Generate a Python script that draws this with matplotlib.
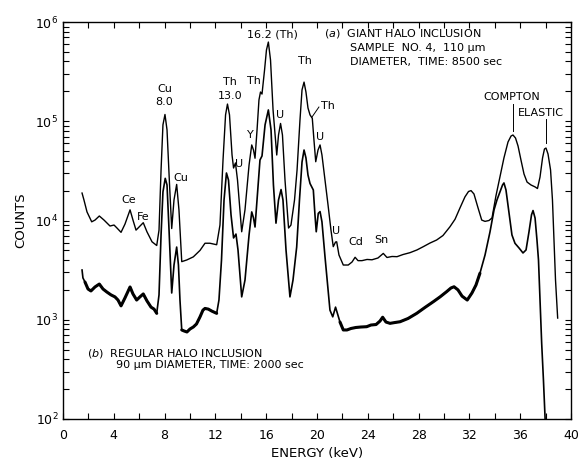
import matplotlib
matplotlib.use("Agg")
import matplotlib.pyplot as plt
from matplotlib.ticker import MultipleLocator, LogLocator, NullFormatter, FixedLocator

# ---- data: energy (keV) and counts ----
energy_a = [1.50, 1.65, 1.89, 2.26, 2.52, 2.86, 3.23, 3.70, 4.02, 4.25, 4.57, 4.88, 5.28, 5.51, 5.75,
            6.06, 6.32, 6.61, 7.01, 7.38, 7.56, 7.72, 7.87, 8.03, 8.19, 8.39, 8.56, 8.74, 8.95, 9.13,
            9.35, 9.74, 10.26, 10.79, 11.18, 11.57, 12.10, 12.36, 12.60, 12.80, 12.95, 13.11, 13.31,
            13.43, 13.58, 13.74, 14.07, 14.33, 14.65, 14.86, 15.00, 15.12, 15.28, 15.43, 15.55, 15.67,
            15.87, 16.02, 16.17, 16.34, 16.54, 16.83, 16.97, 17.13, 17.28, 17.48, 17.76, 17.95, 18.23,
            18.43, 18.66, 18.82, 18.98, 19.13, 19.29, 19.45, 19.63, 19.76, 19.90, 20.08, 20.24, 20.39,
            20.63, 20.87, 21.10, 21.28, 21.46, 21.55, 21.73, 22.07, 22.46, 22.76, 23.00, 23.23, 23.54,
            23.94, 24.33, 24.80, 25.22, 25.51, 25.91, 26.30, 26.77, 27.32, 27.87, 28.37, 28.90, 29.42,
            29.92, 30.47, 30.87, 31.26, 31.65, 31.93, 32.13, 32.36, 32.68, 32.97, 33.23, 33.54, 33.78,
            34.09, 34.41, 34.72, 35.04, 35.28, 35.43, 35.63, 35.83, 36.06, 36.30, 36.54, 36.85, 37.17,
            37.36, 37.56, 37.76, 37.91, 38.03, 38.19, 38.39, 38.54, 38.66, 38.78, 38.95]
counts_a = [1.89e4, 1.61e4, 1.22e4, 9.7e3, 1.01e4, 1.11e4, 1.01e4, 8.8e3, 9.0e3, 8.4e3, 7.6e3, 9.2e3,
            1.28e4, 1.01e4, 8.0e3, 8.8e3, 9.5e3, 7.7e3, 6.1e3, 5.6e3, 8.0e3, 3.2e4, 9.2e4, 1.17e5,
            8.2e4, 2.28e4, 8.3e3, 1.61e4, 2.31e4, 1.28e4, 3.85e3, 4.0e3, 4.3e3, 5.0e3, 5.9e3, 5.9e3,
            5.7e3, 9.0e3, 4.07e4, 1.16e5, 1.49e5, 1.16e5, 4.57e4, 3.38e4, 3.8e4, 2.56e4, 7.7e3, 1.28e4,
            3.62e4, 5.77e4, 5.13e4, 4.24e4, 8.2e4, 1.64e5, 1.97e5, 1.88e5, 3.28e5, 5.22e5, 6.28e5,
            4.14e5, 1.30e5, 4.57e4, 7.27e4, 9.5e4, 7.27e4, 2.56e4, 8.4e3, 9.0e3, 1.61e4, 3.23e4, 1.03e5,
            2.07e5, 2.48e5, 1.97e5, 1.36e5, 1.16e5, 1.07e5, 6.47e4, 3.91e4, 5.13e4, 5.77e4, 4.57e4,
            2.56e4, 1.43e4, 8.0e3, 5.45e3, 6.07e3, 6.1e3, 4.49e3, 3.56e3, 3.56e3, 3.82e3, 4.26e3,
            3.94e3, 3.94e3, 4.05e3, 4.02e3, 4.19e3, 4.66e3, 4.24e3, 4.34e3, 4.32e3, 4.54e3, 4.74e3,
            5.05e3, 5.45e3, 5.93e3, 6.36e3, 7.06e3, 8.65e3, 1.03e4, 1.34e4, 1.73e4, 1.96e4, 2.0e4,
            1.85e4, 1.34e4, 1.01e4, 9.8e3, 1.0e4, 1.06e4, 1.77e4, 2.76e4, 4.27e4, 6.18e4, 7.1e4,
            7.27e4, 6.78e4, 5.63e4, 4.07e4, 2.94e4, 2.44e4, 2.28e4, 2.18e4, 2.1e4, 2.74e4, 4.27e4,
            5.25e4, 5.37e4, 4.68e4, 3.23e4, 1.61e4, 6.4e3, 2.52e3, 1.04e3]

energy_b = [1.50, 1.57, 1.73, 1.97, 2.20, 2.52, 2.86, 3.15, 3.46, 3.78, 4.09, 4.33, 4.57, 4.88, 5.28,
            5.51, 5.80, 6.06, 6.32, 6.61, 6.93, 7.17, 7.38, 7.56, 7.72, 7.87, 8.05, 8.19, 8.35, 8.56,
            8.74, 8.95, 9.09, 9.21, 9.35, 9.53, 9.76, 10.00, 10.26, 10.51, 10.79, 11.02, 11.18, 11.44,
            11.73, 12.10, 12.28, 12.48, 12.68, 12.87, 13.03, 13.23, 13.43, 13.62, 13.78, 14.07, 14.33,
            14.65, 14.86, 15.00, 15.12, 15.31, 15.51, 15.67, 15.91, 16.17, 16.38, 16.57, 16.77, 16.97,
            17.17, 17.32, 17.56, 17.87, 18.11, 18.40, 18.62, 18.82, 18.98, 19.13, 19.29, 19.45, 19.71,
            19.84, 19.94, 20.10, 20.24, 20.39, 20.63, 20.87, 21.02, 21.24, 21.46, 21.57, 21.81, 22.07,
            22.36, 22.68, 23.07, 23.46, 23.91, 24.25, 24.65, 24.96, 25.17, 25.43, 25.75, 26.14, 26.54,
            27.17, 27.85, 28.50, 29.16, 29.69, 30.21, 30.55, 30.79, 31.10, 31.42, 31.83, 32.20, 32.52,
            32.83, 33.23, 33.62, 33.94, 34.17, 34.41, 34.61, 34.72, 34.88, 35.04, 35.20, 35.35, 35.59,
            35.91, 36.22, 36.46, 36.69, 36.89, 37.01, 37.17, 37.32, 37.44, 37.56, 37.69, 37.83, 37.97]
counts_b = [3.17e3, 2.64e3, 2.4e3, 2.04e3, 1.95e3, 2.14e3, 2.29e3, 2.04e3, 1.9e3, 1.78e3, 1.7e3,
            1.58e3, 1.38e3, 1.66e3, 2.14e3, 1.82e3, 1.58e3, 1.7e3, 1.82e3, 1.55e3, 1.34e3, 1.28e3,
            1.16e3, 1.78e3, 7.1e3, 1.94e4, 2.66e4, 2.28e4, 8.0e3, 1.86e3, 3.56e3, 5.4e3, 3.56e3,
            1.58e3, 789, 771, 753, 807, 845, 906, 1.07e3, 1.25e3, 1.3e3, 1.28e3, 1.22e3, 1.16e3,
            1.58e3, 4.0e3, 1.61e4, 3.01e4, 2.56e4, 1.14e4, 6.67e3, 7.3e3, 5.05e3, 1.7e3, 2.51e3,
            7.15e3, 1.22e4, 1.06e4, 8.6e3, 1.81e4, 4.07e4, 4.47e4, 9.2e4, 1.30e5, 8.2e4, 2.28e4,
            9.4e3, 1.61e4, 2.05e4, 1.61e4, 5.05e3, 1.7e3, 2.51e3, 5.4e3, 1.61e4, 3.88e4, 5.13e4,
            4.27e4, 2.87e4, 2.36e4, 2.03e4, 1.14e4, 7.7e3, 1.18e4, 1.23e4, 9.7e3, 4.31e3, 2.0e3,
            1.25e3, 1.07e3, 1.34e3, 1.2e3, 948, 789, 789, 817, 836, 845, 851, 885, 895, 970, 1.06e3,
            948, 920, 938, 955, 1.03e3, 1.16e3, 1.33e3, 1.52e3, 1.7e3, 1.92e3, 2.09e3, 2.15e3, 2.0e3,
            1.73e3, 1.58e3, 1.86e3, 2.24e3, 2.94e3, 4.49e3, 7.66e3, 1.28e4, 1.61e4, 1.94e4, 2.28e4,
            2.39e4, 2.03e4, 1.43e4, 1.01e4, 7.15e3, 5.89e3, 5.28e3, 4.71e3, 5.05e3, 7.66e3, 1.14e4,
            1.26e4, 1.06e4, 6.37e3, 4.0e3, 1.58e3, 583, 247, 95]

# energy ranges where spectrum (b) is drawn as a thick, noisy trace
noisy_ranges_b = [(1.7, 7.4), (9.35, 12.2), (21.8, 32.9)]

x_ticks_major = [0, 4, 8, 12, 16, 20, 24, 28, 32, 36, 40]
y_decades = [1e2, 1e3, 1e4, 1e5, 1e6]
y_labels = ["$10^{2}$", "$10^{3}$", "$10^{4}$", "$10^{5}$", "$10^{6}$"]

fig = plt.figure(figsize=(5.82, 4.66), dpi=100)
ax = fig.add_axes([63 / 582, 1 - 419 / 466, (571 - 63) / 582, (419 - 22) / 466])

ax.plot(energy_a, counts_a, color="black", lw=1.0, solid_joinstyle="round")
ax.plot(energy_b, counts_b, color="black", lw=1.2, solid_joinstyle="round")
for lo, hi in noisy_ranges_b:
    seg = [(e, c) for e, c in zip(energy_b, counts_b) if lo <= e <= hi]
    ax.plot([s[0] for s in seg], [s[1] for s in seg], color="black", lw=2.2,
            solid_joinstyle="round", solid_capstyle="round")

ax.set_yscale("log")
ax.set_xlim(0, 40)
ax.set_ylim(1e2, 1e6)

ax.xaxis.set_major_locator(FixedLocator(x_ticks_major))
ax.set_xticklabels([str(v) for v in x_ticks_major])
ax.xaxis.set_minor_locator(MultipleLocator(2))
ax.yaxis.set_major_locator(FixedLocator(y_decades))
ax.set_yticklabels(y_labels)
ax.yaxis.set_minor_locator(LogLocator(base=10, subs=range(2, 10), numticks=20))
ax.yaxis.set_minor_formatter(NullFormatter())
ax.tick_params(which="both", direction="in", top=True, right=True, length=4, width=0.8,
               labelsize=9)
ax.tick_params(axis="x", which="major", pad=7)
for s in ax.spines.values():
    s.set_linewidth(1.0)

ax.set_xlabel("ENERGY (keV)", fontsize=9.5, labelpad=4)
ax.set_ylabel("COUNTS", fontsize=9.5, labelpad=6)

fs = 8
def lab(x, y, t, ha="center", va="center"):
    ax.text(x, y, t, fontsize=fs, ha=ha, va=va)

lab(5.2, 1.6e4, "Ce")
lab(6.3, 1.08e4, "Fe")
lab(8.0, 2.1e5, "Cu")
lab(8.0, 1.56e5, "8.0")
lab(9.3, 2.7e4, "Cu")
lab(13.15, 2.48e5, "Th")
lab(13.15, 1.8e5, "13.0")
lab(13.86, 3.7e4, "U")
lab(14.72, 7.3e4, "Y")
lab(15.04, 2.54e5, "Th")
lab(16.46, 7.4e5, "16.2 (Th)")
lab(17.09, 1.16e5, "U")
lab(19.06, 4.05e5, "Th")
lab(20.3, 1.43e5, "Th", ha="left")
ax.plot([19.6, 20.15], [1.1e5, 1.39e5], color="black", lw=0.7)
lab(20.24, 6.9e4, "U")
lab(21.5, 7.8e3, "U")
lab(23.07, 6.07e3, "Cd")
lab(25.1, 6.36e3, "Sn")
lab(35.35, 1.75e5, "COMPTON")
ax.plot([35.4, 35.4], [1.49e5, 8.0e4], color="black", lw=0.7)
lab(37.64, 1.21e5, "ELASTIC")
ax.plot([38.0, 38.0], [1.05e5, 6.04e4], color="black", lw=0.7)

lab(20.55, 7.57e5, "($\\mathit{a}$)  GIANT HALO INCLUSION", ha="left")
lab(22.6, 5.47e5, "SAMPLE  NO. 4,  110 μm", ha="left")
lab(22.6, 3.95e5, "DIAMETER,  TIME: 8500 sec", ha="left")
lab(1.89, 462, "($\\mathit{b}$)  REGULAR HALO INCLUSION", ha="left")
lab(4.17, 350, "90 μm DIAMETER, TIME: 2000 sec", ha="left")

fig.savefig("out.png", dpi=100)
